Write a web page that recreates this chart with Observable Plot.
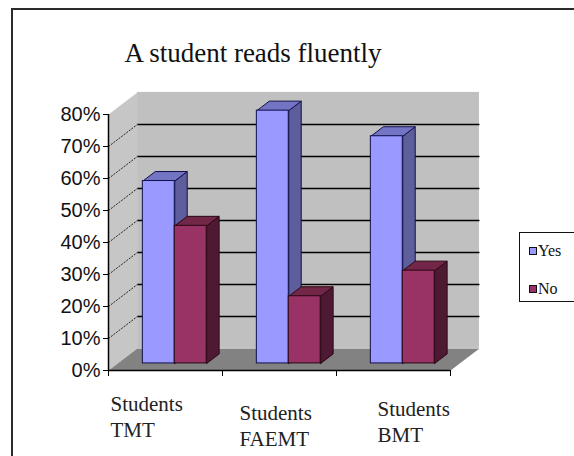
<!DOCTYPE html>
<html>
<head>
<meta charset="utf-8">
<script src="https://cdn.jsdelivr.net/npm/d3@7"></script>
<script src="https://cdn.jsdelivr.net/npm/@observablehq/plot@0.6"></script>
<style>
  html, body { margin: 0; padding: 0; background: #fff; }
  #wrap { position: relative; width: 574px; height: 456px; overflow: hidden; background: #fff; }
  #frame { position: absolute; left: 11px; top: 8px; width: 700px; height: 600px; border: 2px solid #2a2a2a; box-sizing: border-box; }
  #title { position: absolute; left: 0; top: 40px; width: 506px; text-align: center; font-family: "Liberation Serif", "DejaVu Serif", "Times New Roman", Times, serif; font-size: 27px; line-height: 27px; color: #111; }
  #chart svg { position: absolute; left: 0; top: 0; }
  #legend { position: absolute; left: 519px; top: 232px; width: 80px; height: 70px; border: 1px solid #111; box-sizing: border-box; background: #fff; font-family: "Liberation Serif", "DejaVu Serif", "Times New Roman", Times, serif; font-size: 16px; color: #111; }
  .sw { position: absolute; width: 6px; height: 6px; border: 1px solid #111; }
  .lt { position: absolute; line-height: 16px; }
</style>
</head>
<body>
<div id="wrap">
  <div id="frame"></div>
  <div id="title">A student reads fluently</div>
  <div id="chart"></div>
  <div id="legend"></div>
</div>
<script>
// ---- data ----
const categories = ["Students\nTMT", "Students\nFAEMT", "Students\nBMT"];
const seriesNames = ["Yes", "No"];
const yesValues = [57, 79, 71];
const noValues = [43, 21, 29];
const yTicks = [0, 10, 20, 30, 40, 50, 60, 70, 80];

// ---- styling / layout ----
const serifStack = "'Liberation Serif', 'DejaVu Serif', 'Times New Roman', Times, serif";
const colors = {
  Yes: {front: "#9999ff", top: "#7474c4", side: "#5e5e9c", stroke: "#10104a"},
  No: {front: "#993366", top: "#722648", side: "#4e1a33", stroke: "#2a0814"}
};
const DX = 0.254, DY = 6.9;          // chart depth (x units, % units)
const F0 = 0.32, F1 = 0.75;          // bar front/back depth fractions
const W = 0.28;                      // bar width in category units
const labelOffsets = [[-55, 23], [-40, 32], [-16, 28]];

const series = [yesValues, noValues];
const fronts = {Yes: [], No: []}, tops = {Yes: [], No: []}, sides = {Yes: [], No: []};
series.forEach((vals, s) => {
  const name = seriesNames[s];
  vals.forEach((v, i) => {
    const xL = i + 0.5 + (s === 0 ? -W : 0) + F0 * DX;
    const xR = xL + W;
    const yB = F0 * DY, yT = v + F0 * DY;
    const bx = (F1 - F0) * DX, by = (F1 - F0) * DY;
    const id = name + i;
    fronts[name].push({x1: xL, x2: xR, y1: yB, y2: yT});
    [[xL, yT], [xR, yT], [xR + bx, yT + by], [xL + bx, yT + by], [xL, yT]]
      .forEach(([x, y]) => tops[name].push({id, x, y}));
    [[xR, yB], [xR + bx, yB + by], [xR + bx, yT + by], [xR, yT], [xR, yB]]
      .forEach(([x, y]) => sides[name].push({id, x, y}));
  });
});

const n = categories.length, yMax = yTicks[yTicks.length - 1];
const leftWall = [[0, 0], [0, yMax], [DX, yMax + DY], [DX, DY], [0, 0]].map(([x, y]) => ({x, y}));
const floor = [[0, 0], [n, 0], [n + DX, DY], [DX, DY], [0, 0]].map(([x, y]) => ({x, y}));
const inner = yTicks.filter(t => t > 0 && t < yMax);

const barMarks = [];
seriesNames.forEach(name => {
  const c = colors[name];
  barMarks.push(Plot.line(sides[name], {x: "x", y: "y", z: "id", fill: c.side, stroke: c.stroke, strokeWidth: 1, curve: "linear"}));
  barMarks.push(Plot.line(tops[name], {x: "x", y: "y", z: "id", fill: c.top, stroke: c.stroke, strokeWidth: 1, curve: "linear"}));
  barMarks.push(Plot.rect(fronts[name], {x1: "x1", x2: "x2", y1: "y1", y2: "y2", fill: c.front, stroke: c.stroke, strokeWidth: 1}));
});

const labelMarks = categories.map((c, i) => Plot.text([c], {
  x: () => i + 0.5, frameAnchor: "bottom", text: d => d,
  textAnchor: "start", lineAnchor: "top", lineHeight: 1.2,
  dx: labelOffsets[i][0], dy: labelOffsets[i][1],
  fontSize: 21, fontFamily: serifStack, fill: "#222"
}));

const chart = Plot.plot({
  width: 574, height: 456,
  marginLeft: 108, marginRight: 124, marginTop: 114, marginBottom: 86,
  x: {domain: [0, n]},
  y: {domain: [0, yMax]},
  style: {fontFamily: "Liberation Sans", background: "transparent", overflow: "visible", color: "#111"},
  marks: [
    Plot.rect([0], {x1: DX, x2: n + DX, y1: DY, y2: yMax + DY, fill: "#c0c0c0"}),
    Plot.line(leftWall, {x: "x", y: "y", fill: "#c6c6c6", stroke: "none", curve: "linear"}),
    Plot.line(floor, {x: "x", y: "y", fill: "#828282", stroke: "none", curve: "linear"}),
    Plot.link(inner, {x1: DX, x2: n + DX, y1: d => d + DY, y2: d => d + DY, stroke: "#000", strokeWidth: 1.5}),
    Plot.link(inner, {x1: 0, x2: DX, y1: d => d, y2: d => d + DY, stroke: "#222", strokeWidth: 1, strokeDasharray: "2,1.2"}),
    ...barMarks,
    Plot.ruleX([0], {y1: 0, y2: yMax, stroke: "#000", strokeWidth: 1.5}),
    Plot.ruleY([0], {x1: 0, x2: n, stroke: "#000", strokeWidth: 1.5}),
    Plot.axisY({ticks: yTicks, tickFormat: d => d + "%", tickSize: 5, tickPadding: 3, fontSize: 20, label: null, stroke: "#000"}),
    Plot.axisX({ticks: d3.range(n + 1), tickFormat: () => "", tickSize: 6, label: null, stroke: "#000"}),
    ...labelMarks
  ]
});
document.getElementById("chart").appendChild(chart);

// legend
const legend = document.getElementById("legend");
seriesNames.forEach((name, i) => {
  const sw = document.createElement("div");
  sw.className = "sw";
  sw.style.left = "9px";
  sw.style.top = (14 + i * 38) + "px";
  sw.style.background = colors[name].front;
  legend.appendChild(sw);
  const t = document.createElement("div");
  t.className = "lt";
  t.style.left = "18px";
  t.style.top = (10 + i * 38) + "px";
  t.textContent = name;
  legend.appendChild(t);
});
</script>
</body>
</html>
